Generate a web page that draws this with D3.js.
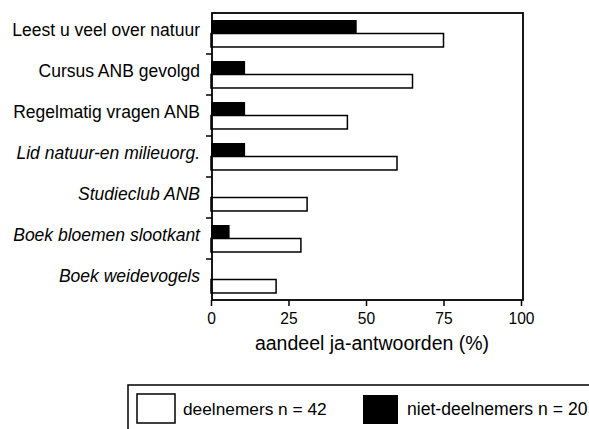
<!DOCTYPE html>
<html><head><meta charset="utf-8">
<script src="https://cdn.jsdelivr.net/npm/d3@7"></script>
<style>body{margin:0;background:#fff}svg{display:block}text{font-family:"Liberation Sans",Arial,sans-serif;fill:#000}</style>
</head><body><svg id="c" width="589" height="429"></svg>
<script>
const categories = ["Leest u veel over natuur","Cursus ANB gevolgd","Regelmatig vragen ANB","Lid natuur-en milieuorg.","Studieclub ANB","Boek bloemen slootkant","Boek weidevogels"];
const italicCats = ["Lid natuur-en milieuorg.","Studieclub ANB","Boek bloemen slootkant","Boek weidevogels"];
const nietDeelnemers = [47, 11, 11, 11, 0, 6, 0];
const deelnemers = [75, 65, 44, 60, 31, 29, 21];
const xTicks = [0, 25, 50, 75, 100];
const seriesNames = ["niet-deelnemers n = 20", "deelnemers n = 42"];
const xTitle = "aandeel ja-antwoorden (%)";

const svg = d3.select("#c");
const L = 212, R = 523, T = 13, B = 300;
const x = d3.scaleLinear().domain([0, 100]).range([211, 521]);
const y = d3.scaleBand().domain(categories).range([T, B]);
const ySub = d3.scaleBand().domain(["niet","deel"]).range([0, y.bandwidth()]).paddingOuter(0.52);

const g = svg.append("g");
categories.forEach((c, i) => {
  g.append("rect").attr("x", x(0)).attr("y", y(c) + ySub("deel"))
    .attr("width", x(deelnemers[i]) - x(0)).attr("height", ySub.bandwidth())
    .attr("fill", "#fff").attr("stroke", "#000").attr("stroke-width", 1.5);
  if (nietDeelnemers[i] > 0)
    g.append("rect").attr("x", x(0)).attr("y", y(c) + ySub("niet"))
      .attr("width", x(nietDeelnemers[i]) - x(0)).attr("height", ySub.bandwidth())
      .attr("fill", "#000");
});

// frame
svg.append("rect").attr("x", L).attr("y", T).attr("width", R - L).attr("height", B - T)
  .attr("fill", "none").attr("stroke", "#000").attr("stroke-width", 1.8);

// left ticks at band boundaries
categories.slice(1).forEach(c => {
  svg.append("line").attr("x1", L - 6).attr("x2", L).attr("y1", y(c)).attr("y2", y(c))
    .attr("stroke", "#000").attr("stroke-width", 1.5);
});

// category labels
categories.forEach(c => {
  svg.append("text").attr("x", 200).attr("y", y(c) + y.bandwidth() / 2 - 2)
    .attr("text-anchor", "end").attr("dominant-baseline", "middle")
    .attr("font-size", 17.5).attr("font-style", italicCats.includes(c) ? "italic" : "normal")
    .text(c);
});

// x axis
const xa = svg.append("g").attr("transform", `translate(0,${B})`)
  .call(d3.axisBottom(x).tickValues(xTicks).tickSize(6).tickSizeOuter(0).tickPadding(7));
xa.select(".domain").remove();
xa.selectAll("line").attr("stroke-width", 1.5);
xa.selectAll("text").attr("font-size", 15.6).attr("font-family", '"Liberation Sans",Arial,sans-serif').attr("fill", "#000");

svg.append("text").attr("x", 372).attr("y", 350).attr("text-anchor", "middle")
  .attr("font-size", 19.5).text(xTitle);

// legend
svg.append("rect").attr("x", 128).attr("y", 385).attr("width", 500).attr("height", 80)
  .attr("fill", "#fff").attr("stroke", "#000").attr("stroke-width", 1.5);
svg.append("rect").attr("x", 137).attr("y", 394).attr("width", 38).attr("height", 29)
  .attr("fill", "#fff").attr("stroke", "#000").attr("stroke-width", 1.5);
svg.append("text").attr("x", 183).attr("y", 415).attr("font-size", 17.3).text(seriesNames[1]);
svg.append("rect").attr("x", 363).attr("y", 395).attr("width", 35).attr("height", 29).attr("fill", "#000");
svg.append("text").attr("x", 407).attr("y", 415).attr("font-size", 17.6).text(seriesNames[0]);
</script></body></html>
